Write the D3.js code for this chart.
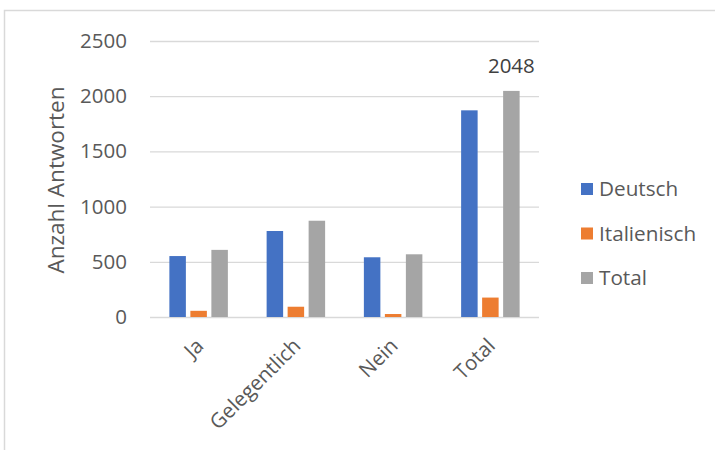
<!DOCTYPE html>
<html><head><meta charset="utf-8">
<script src="https://cdn.jsdelivr.net/npm/d3@7"></script>
<style>body{margin:0;background:#fff;} text{font-family:"Open Sans",sans-serif;}</style>
</head><body>
<svg id="c" width="715" height="450"></svg>
<script>
const categories = ["Ja", "Gelegentlich", "Nein", "Total"];
const seriesNames = ["Deutsch", "Italienisch", "Total"];
const deutsch = [552, 779, 541, 1872];
const italienisch = [56, 93, 27, 176];
const total = [608, 872, 568, 2048];
const yTicks = [0, 500, 1000, 1500, 2000, 2500];
const colors = ["#4472c4", "#ed7d31", "#a5a5a5"];
const values = [deutsch, italienisch, total];

const svg = d3.select("#c");
svg.append("rect").attr("x",4.5).attr("y",10.5).attr("width",720).attr("height",450)
  .attr("fill","none").attr("stroke","#d9d9d9").attr("stroke-width",1.5);

const x0 = 150, x1 = 539, yTop = 41, yBot = 317;
const x = d3.scaleBand().domain(categories).range([x0, x1]);
const y = d3.scaleLinear().domain([0, 2500]).range([yBot, yTop]);
const bw = 16.5, gap = 4.5;

const yAxis = d3.axisLeft(y).tickValues(yTicks).tickSize(-(x1 - x0)).tickFormat(d3.format("d"));
const ga = svg.append("g").attr("transform", `translate(${x0},0)`).call(yAxis);
ga.select(".domain").remove();
ga.selectAll(".tick line").attr("stroke","#d9d9d9").attr("stroke-width",1.3);
ga.selectAll(".tick text").attr("x",-23).attr("fill","#595959").style("font-size","20.5px");

const groupW = 3*bw + 2*gap;
seriesNames.forEach((s, si) => {
  svg.append("g").selectAll("rect").data(categories).join("rect")
    .attr("x", c => x(c) + x.bandwidth()/2 - groupW/2 + si*(bw+gap))
    .attr("y", (c,i) => y(values[si][i]))
    .attr("width", bw)
    .attr("height", (c,i) => yBot - y(values[si][i]))
    .attr("fill", colors[si]);
});

// data label
svg.append("text").attr("x", x("Total") + x.bandwidth()/2 - groupW/2 + 2*(bw+gap) + bw/2)
  .attr("y", y(2048) - 18).attr("text-anchor","middle").attr("fill","#404040")
  .style("font-size","20.5px").text(total[3]);

// x labels
categories.forEach(c => {
  const cx = x(c) + x.bandwidth()/2 + 1, cy = 342;
  svg.append("text").attr("transform", `translate(${cx},${cy}) rotate(-45)`)
    .attr("text-anchor","end").attr("dy","0.35em").attr("fill","#595959")
    .style("font-size","20.5px").text(c);
});

// y title
svg.append("text").attr("transform", `translate(64,180) rotate(-90)`)
  .attr("text-anchor","middle").attr("fill","#595959").style("font-size","22.5px").text("Anzahl Antworten");

// legend
seriesNames.forEach((s, i) => {
  const ly = 189 + i*44.5;
  svg.append("rect").attr("x",581).attr("y",ly-6).attr("width",12).attr("height",12).attr("fill",colors[i]);
  svg.append("text").attr("x",599).attr("y",ly).attr("dy","0.35em").attr("fill","#595959")
    .style("font-size","20.7px").text(s);
});
</script>
</body></html>
